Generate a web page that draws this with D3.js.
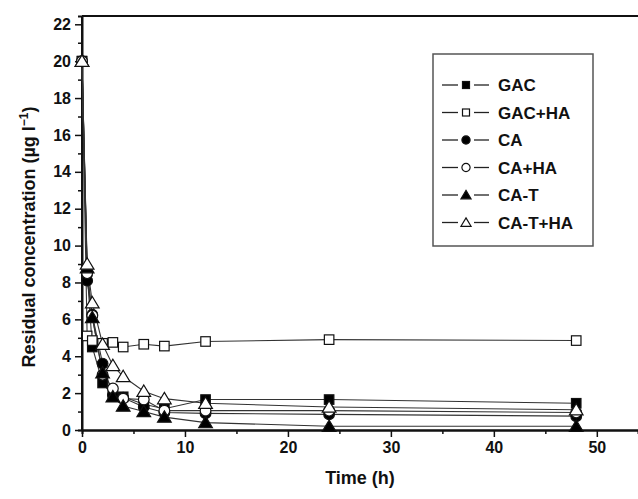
<!DOCTYPE html>
<html>
<head>
<meta charset="utf-8">
<script src="https://cdn.jsdelivr.net/npm/d3@7"></script>
<style>
  body { margin: 0; background: #fff; }
  svg { display: block; font-family: "Liberation Sans", Arial, sans-serif; }
</style>
</head>
<body>
<div id="chart"></div>
<script>
// tiempos de muestreo (h)
const times = [0, 0.5, 1, 2, 3, 4, 6, 8, 12, 24, 48];

// series
const gac    = [20, 8.6, 4.5, 2.55, 1.85, 1.8, 1.4, 1.15, 1.65, 1.65, 1.45];
const gacHa  = [20, 5.1, 4.85, 4.7, 4.75, 4.5, 4.65, 4.55, 4.8, 4.9, 4.85];
const ca     = [20, 8.1, 6.25, 3.6, 1.9, 1.75, 1.25, 0.95, 0.9, 0.85, 0.75];
const caHa   = [20, 8.5, 6.2, 3.0, 2.25, 1.7, 1.65, 1.05, 1.05, 1.05, 0.95];
const caT    = [20, 8.8, 6.1, 3.1, 1.8, 1.3, 1.0, 0.7, 0.4, 0.2, 0.2];
const caTHa  = [20, 9.0, 6.9, 4.65, 3.5, 2.9, 2.1, 1.7, 1.45, 1.25, 1.1];

const names = ["GAC", "GAC+HA", "CA", "CA+HA", "CA-T", "CA-T+HA"];
const shapes = ["square", "square", "circle", "circle", "triangle", "triangle"];
const filled = [true, false, true, false, true, false];

const xTicks = [0, 10, 20, 30, 40, 50];
const yTicks = [0, 2, 4, 6, 8, 10, 12, 14, 16, 18, 20, 22];

const width = 638, height = 499;
const margin = { left: 82, top: 16, bottom: 69 };

const series = [gac, gacHa, ca, caHa, caT, caTHa].map((vals, i) => ({
    name: names[i], shape: shapes[i], filled: filled[i],
    values: vals.map((v, j) => ({ t: times[j], v: v }))
}));

const x = d3.scaleLinear().domain([0, 54]).range([margin.left, width]);
const y = d3.scaleLinear().domain([0, 22.45]).range([height - margin.bottom, margin.top]);

const svg = d3.select("#chart").append("svg")
    .attr("width", width).attr("height", height);

// marco superior
svg.append("line")
    .attr("x1", margin.left).attr("x2", width)
    .attr("y1", margin.top).attr("y2", margin.top)
    .attr("stroke", "#111").attr("stroke-width", 2);

// ticks menores
const xAxisMinor = d3.axisBottom(x).tickValues(d3.range(5, 55, 10)).tickSize(4).tickFormat("");
const yAxisMinor = d3.axisLeft(y).tickValues(d3.range(1, 22, 2)).tickSize(4).tickFormat("");

const xAxis = d3.axisBottom(x).tickValues(xTicks).tickSize(7).tickPadding(5).tickSizeOuter(0);
const yAxis = d3.axisLeft(y).tickValues(yTicks).tickSize(7).tickPadding(4).tickSizeOuter(0);

svg.append("g").attr("transform", `translate(0,${height - margin.bottom})`).call(xAxisMinor);
svg.append("g").attr("transform", `translate(${margin.left},0)`).call(yAxisMinor);

const gx = svg.append("g").attr("transform", `translate(0,${height - margin.bottom})`).call(xAxis);
const gy = svg.append("g").attr("transform", `translate(${margin.left},0)`).call(yAxis);

svg.selectAll(".domain").attr("stroke", "#111").attr("stroke-width", 2);
svg.selectAll(".tick line").attr("stroke", "#111").attr("stroke-width", 1.5);
svg.selectAll(".tick text")
    .attr("font-family", "'Liberation Sans', Arial, sans-serif")
    .attr("font-size", 16).attr("font-weight", "bold").attr("fill", "#111");
gy.select(".domain").attr("d", `M0,${margin.top}V${height - margin.bottom}`);

// títulos
svg.append("text")
    .attr("x", (margin.left + width) / 2).attr("y", 484)
    .attr("text-anchor", "middle")
    .attr("font-size", 18).attr("font-weight", "bold").attr("fill", "#111")
    .text("Time (h)");

const yTitle = svg.append("text")
    .attr("transform", `translate(35,237) rotate(-90)`)
    .attr("text-anchor", "middle")
    .attr("font-size", 18).attr("font-weight", "bold").attr("fill", "#111");
yTitle.append("tspan").text("Residual concentration (µg l");
yTitle.append("tspan").attr("dy", -7).attr("font-size", 12).text("−1");
yTitle.append("tspan").attr("dy", 7).text(")");

// líneas
const line = d3.line().x(d => x(d.t)).y(d => y(d.v));
svg.append("g").selectAll("path")
    .data(series).enter().append("path")
    .attr("d", d => line(d.values))
    .attr("fill", "none").attr("stroke", "#333").attr("stroke-width", 1.1);

// marcadores
function drawMarker(g, shape, isFilled, size) {
    const fill = isFilled ? "#000" : "#fff";
    if (shape === "square") {
        g.append("rect").attr("x", -size / 2).attr("y", -size / 2)
            .attr("width", size).attr("height", size);
    } else if (shape === "circle") {
        g.append("circle").attr("r", size / 2 + 0.6);
    } else {
        const s = size * 1.2;
        g.append("path").attr("d", `M0,${-s * 0.55}L${s * 0.6},${s * 0.45}L${-s * 0.6},${s * 0.45}Z`);
    }
    g.selectAll("*").attr("fill", fill).attr("stroke", "#111").attr("stroke-width", 1.2);
}

series.forEach(s => {
    const gs = svg.append("g");
    s.values.forEach(p => {
        const g = gs.append("g").attr("transform", `translate(${x(p.t)},${y(p.v)})`);
        drawMarker(g, s.shape, s.filled, 9.5);
    });
});

// leyenda
const legend = svg.append("g");
legend.append("rect")
    .attr("x", 433).attr("y", 54).attr("width", 160).attr("height", 192)
    .attr("fill", "#fff").attr("stroke", "#555").attr("stroke-width", 1.5);

series.forEach((s, i) => {
    const ly = 85 + i * 27.5;
    legend.append("line")
        .attr("x1", 442).attr("x2", 458).attr("y1", ly).attr("y2", ly)
        .attr("stroke", "#222").attr("stroke-width", 1.3);
    legend.append("line")
        .attr("x1", 474).attr("x2", 489).attr("y1", ly).attr("y2", ly)
        .attr("stroke", "#222").attr("stroke-width", 1.3);
    const g = legend.append("g").attr("transform", `translate(466,${ly})`);
    drawMarker(g, s.shape, s.filled, 7);
    legend.append("text")
        .attr("x", 498).attr("y", ly + 6)
        .attr("font-size", 17).attr("font-weight", "bold").attr("fill", "#111")
        .text(s.name);
});
</script>
</body>
</html>
